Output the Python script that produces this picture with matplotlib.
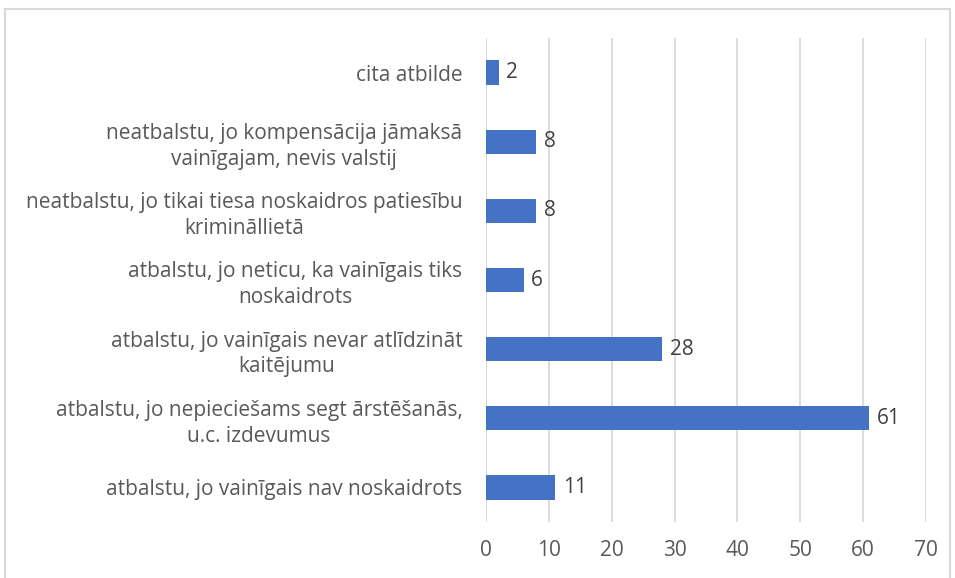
import matplotlib
matplotlib.use("Agg")
import matplotlib.pyplot as plt
from matplotlib.patches import Rectangle

categories = [
    "atbalstu, jo vainīgais nav noskaidrots",
    "atbalstu, jo nepieciešams segt ārstēšanās,\nu.c. izdevumus",
    "atbalstu, jo vainīgais nevar atlīdzināt\nkaitējumu",
    "atbalstu, jo neticu, ka vainīgais tiks\nnoskaidrots",
    "neatbalstu, jo tikai tiesa noskaidros patiesību\nkrimināllietā",
    "neatbalstu, jo kompensācija jāmaksā\nvainīgajam, nevis valstij",
    "cita atbilde",
]
values = [11, 61, 28, 6, 8, 8, 2]
xticks = [0, 10, 20, 30, 40, 50, 60, 70]

plt.rcParams['font.family'] = ['Open Sans', 'DejaVu Sans']

W, H = 955, 578
fig = plt.figure(figsize=(W / 100, H / 100), dpi=100)
ax = fig.add_axes([486 / W, 1 - 522 / H, (926 - 486) / W, (522 - 38) / H])

y = list(range(len(categories)))
ax.barh(y, values, height=0.35, color="#4472C4", zorder=3)
for yi, v in zip(y, values):
    ax.text(v + 1.2, yi, str(v), va="center", ha="left", fontsize=15, color="#404040")

ax.set_xlim(0, 70)
ax.set_ylim(-0.5, len(categories) - 0.5)
ax.set_xticks(xticks)
ax.set_xticklabels([str(t) for t in xticks], fontsize=15, color="#595959")
ax.set_yticks(y)
ax.set_yticklabels(categories, fontsize=15, color="#595959", ha="right",
                   multialignment="center", linespacing=1.3)
ax.tick_params(axis="both", length=0)
ax.tick_params(axis="y", pad=17)
ax.tick_params(axis="x", pad=13)
ax.grid(axis="x", color="#D9D9D9", linewidth=1.3, zorder=0)
for s in ax.spines.values():
    s.set_visible(False)

fig.patches.append(Rectangle((4.5 / W, -0.05), (950 - 4.5) / W, 1.05 - 9 / H,
                             transform=fig.transFigure, fill=False,
                             edgecolor="#D9D9D9", linewidth=1.5))

fig.savefig("out.png", dpi=100)
